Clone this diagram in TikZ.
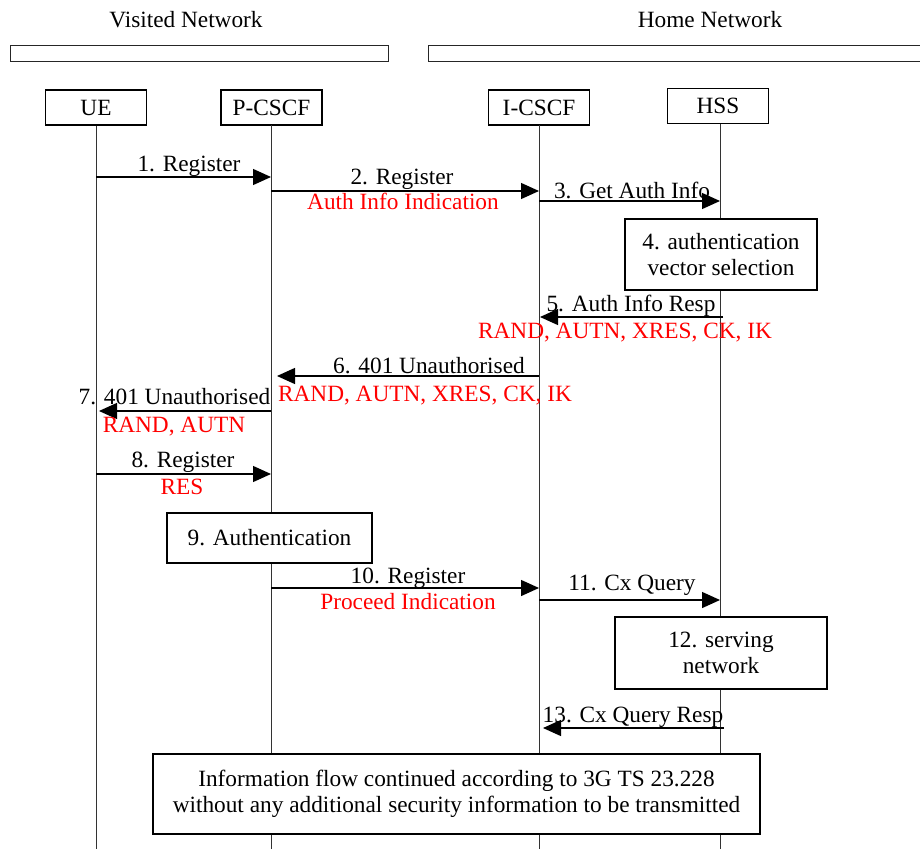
\documentclass[tikz,border=0pt]{standalone}
\usepackage{fontspec}
\setmainfont{Liberation Serif}
\usetikzlibrary{arrows.meta}
\begin{document}
\begin{tikzpicture}[x=1pt,y=-1pt,
 every node/.style={font=\fontsize{23.3}{26}\selectfont},
 ent/.style={draw,line width=1.4pt,inner sep=0pt,minimum width=101pt,minimum height=35pt,fill=white},
 proc/.style={draw,line width=1.4pt,inner sep=0pt,align=center,fill=white},
 life/.style={line width=0.9pt,draw=black!80},
 bar/.style={line width=1pt,draw=black!85},
 msg/.style={line width=1.3pt,-{Triangle[length=18pt,width=16pt]}},
 lbl/.style={anchor=base,inner sep=0pt},
 redlbl/.style={anchor=base,inner sep=0pt,text=red}
]
\useasboundingbox (0,0) rectangle (920,848);
\coordinate (bot) at (0,850);

% network headings
\node[lbl] (vn) at (186,28) {Visited Network};
\node[lbl] (hn) at (710,28) {Home Network};
\draw[bar] (10,46) rectangle (388,62);
\draw[bar] (428,46) rectangle (935,62);

% entities
\node[ent] (ue) at (96,107.5) {UE};
\node[ent] (pcscf) at (271.5,107.5) {P-CSCF};
\node[ent] (icscf) at (539,107.5) {I-CSCF};
\node[ent] (hss) at (718,106) {HSS};

% lifelines
\draw[life] (ue.south) -- (ue.south |- bot);
\draw[life] (271,125) -- (271,850);
\draw[life] (539,125) -- (539,850);
\draw[life] (720,124) -- (720,850);

% message end points
\coordinate (m1a) at (96,177);  \coordinate (m1b) at (271,177);
\coordinate (m2a) at (271,191); \coordinate (m2b) at (539,191);
\coordinate (m3a) at (539,201); \coordinate (m3b) at (720,201);
\coordinate (m5a) at (723,317); \coordinate (m5b) at (540,317);
\coordinate (m6a) at (539,376); \coordinate (m6b) at (277,376);
\coordinate (m7a) at (271,411); \coordinate (m7b) at (99,411);
\coordinate (m8a) at (96,474);  \coordinate (m8b) at (271,474);
\coordinate (m10a) at (271,588); \coordinate (m10b) at (539,588);
\coordinate (m11a) at (539,600); \coordinate (m11b) at (720,600);
\coordinate (m13a) at (724,728); \coordinate (m13b) at (543,728);

% 1
\draw[msg] (m1a) -- (m1b);
\node[lbl] (l1) at (189,171) {1. Register};
% 2
\draw[msg] (m2a) -- (m2b);
\node[lbl] (l2) at (402,184) {2. Register};
\node[redlbl] (r2) at (403,209) {Auth Info Indication};
% 3
\draw[msg] (m3a) -- (m3b);
\node[lbl] (l3) at (632,198) {3. Get Auth Info};
% 4
\node[proc,minimum width=192pt,minimum height=71pt] (b4) at (721,254.5) {4. authentication\\vector selection};
% 5
\draw[msg] (m5a) -- (m5b);
\node[lbl] (l5) at (631,311) {5. Auth Info Resp};
\node[redlbl] (r5) at (625,338) {RAND, AUTN, XRES, CK, IK};
% 6
\draw[msg] (m6a) -- (m6b);
\node[lbl] (l6) at (429,373) {6. 401 Unauthorised};
\node[redlbl] (r6) at (425,401) {RAND, AUTN, XRES, CK, IK};
% 7
\draw[msg] (m7a) -- (m7b);
\node[lbl] (l7) at (174.5,404) {7. 401 Unauthorised};
\node[redlbl] (r7) at (174,432) {RAND, AUTN};
% 8
\draw[msg] (m8a) -- (m8b);
\node[lbl] (l8) at (183,467) {8. Register};
\node[redlbl] (r8) at (182,494) {RES};
% 9
\node[proc,minimum width=205pt,minimum height=50pt] (b9) at (269.5,538) {9. Authentication};
% 10
\draw[msg] (m10a) -- (m10b);
\node[lbl] (l10) at (408,583) {10. Register};
\node[redlbl] (r10) at (408,609) {Proceed Indication};
% 11
\draw[msg] (m11a) -- (m11b);
\node[lbl] (l11) at (632,590) {11. Cx Query};
% 12
\node[proc,minimum width=212pt,minimum height=72pt] (b12) at (721,653) {12. serving\\network};
% 13
\draw[msg] (m13a) -- (m13b);
\node[lbl] (l13) at (633,722) {13. Cx Query Resp};
% final
\node[proc,minimum width=607pt,minimum height=80pt] (fin) at (456.5,794) {Information flow continued according to 3G TS 23.228\\without any additional security information to be transmitted};
\end{tikzpicture}
\end{document}
